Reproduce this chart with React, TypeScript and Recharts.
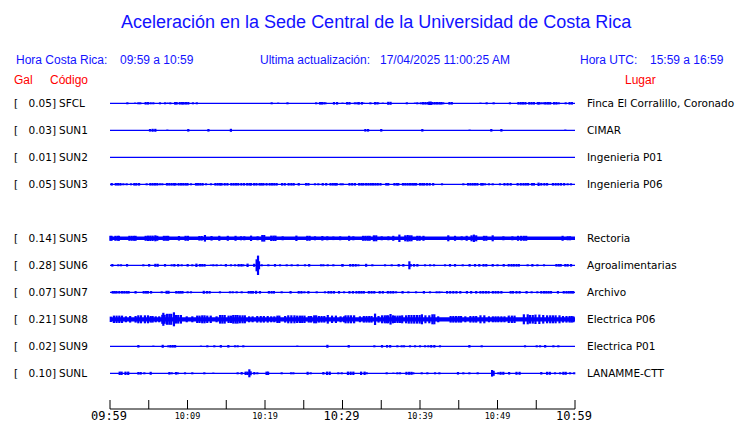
import { ComposedChart, XAxis, YAxis, Scatter, ErrorBar, ReferenceLine, ReferenceArea } from 'recharts';

// ---- data ----
const CODES = ['SFCL', 'SUN1', 'SUN2', 'SUN3', 'SUN5', 'SUN6', 'SUN7', 'SUN8', 'SUN9', 'SUNL'];
const GAL = ['0.05', '0.03', '0.01', '0.05', '0.14', '0.28', '0.07', '0.21', '0.02', '0.10'];
const PLACES = [
  'Finca El Corralillo, Coronado', 'CIMAR', 'Ingenieria P01', 'Ingenieria P06', 'Rectoria',
  'Agroalimentarias', 'Archivo', 'Electrica P06', 'Electrica P01', 'LANAMME-CTT',
];
// background noise half-width of each trace
const NOISE = [0, 0, 0, 0, 1.8, 0.4, 0.4, 2.1, 0, 0];

// bursts: [minutes after 09:59, half amplitude]
const SFCL_EV = [
  [2.24, 1], [3.23, 0.7], [3.66, 1], [3.91, 1], [4.6, 1.3], [4.9, 1.3], [5.25, 1], [5.59, 1], [6.45, 1], [7.1, 1],
  [7.44, 0.7], [7.78, 1], [8.4, 1.3], [8.6, 1.3], [9.0, 1.3], [9.3, 1.3], [9.5, 1.3], [9.8, 1.3], [10.1, 1.3], [10.7, 1],
  [11.2, 1], [20.86, 1], [21.7, 0.7], [22.9, 1], [26.6, 1], [27.1, 1.3], [27.35, 1.3], [27.6, 1], [27.8, 1], [28.9, 1.3],
  [29.3, 1.3], [30.0, 0.7], [30.6, 1.3], [30.9, 1.3], [31.6, 1], [31.9, 1], [32.1, 1.3], [32.5, 1.3], [32.7, 0.7], [33.6, 1],
  [34.2, 1.3], [34.45, 1], [34.6, 1], [35.2, 0.7], [35.9, 1.5], [36.2, 1.5], [38.3, 1], [39.35, 0.7], [39.65, 1], [40.1, 1],
  [40.4, 1.3], [40.7, 1.3], [41.0, 1.3], [41.2, 1.7], [41.4, 1.7], [41.6, 1.3], [41.9, 1.3], [42.2, 1.3], [42.5, 1.3],
  [42.75, 1.3], [43.0, 1], [43.8, 1.3], [44.1, 1.3], [47.8, 0.7], [48.6, 1], [49.5, 1], [51.6, 1], [52.7, 1.3], [53.0, 1.3],
  [53.3, 1.3], [53.6, 1.3], [54.1, 1.3], [54.4, 1.3], [54.7, 1.3], [55.2, 1.3], [55.4, 1.3], [55.7, 1], [56.0, 1],
  [56.2, 1.3], [56.5, 1.3], [56.8, 1.3], [57.3, 1.3], [57.6, 1.3], [57.9, 1], [58.8, 1], [59.3, 1.3], [59.6, 1.3],
];
const SUN1_EV = [
  [5.16, 1.3], [5.5, 1.5], [5.85, 1.5], [7.4, 0.7], [10.1, 1.3], [12.7, 1.3], [15.6, 1.5], [32.95, 1.3], [33.3, 1.3],
  [35.0, 1.3], [40.3, 1.3], [46.4, 0.7], [49.2, 1.3], [50.5, 1.3], [58.75, 0.7],
];
const SUN2_EV: number[][] = [];
const SUN3_EV = [
  [0.22, 1.3], [0.75, 1.3], [1.05, 1.3], [1.35, 1.3], [1.72, 1], [2.15, 1], [2.71, 1], [3.14, 1.3], [3.4, 1.3], [3.75, 1.3],
  [4.73, 1], [5.2, 1.3], [5.5, 1.3], [5.8, 1.3], [6.1, 1.3], [6.45, 1], [6.75, 1], [7.35, 1.3], [7.65, 1.3], [7.95, 1.3],
  [8.25, 1.3], [8.45, 1.3], [8.85, 1.3], [9.15, 1.3], [9.45, 1.3], [9.75, 1.3], [10.0, 1.3], [10.45, 1], [11.1, 1.3],
  [11.35, 1.3], [11.65, 1.3], [11.95, 1.3], [12.39, 1], [13.03, 1], [13.6, 1.3], [13.9, 1.3], [14.2, 1.3], [14.4, 1.3],
  [14.8, 1.3], [15.15, 1.3], [15.65, 1.3], [15.95, 1.3], [16.25, 1.3], [16.55, 1.3], [16.95, 1.3], [17.3, 1.3], [17.7, 1.3],
  [18.0, 1.3], [18.2, 1.3], [18.6, 1.3], [18.9, 1.3], [19.3, 1.3], [19.55, 1.3], [19.8, 1.3], [20.2, 1.3], [20.6, 1.3],
  [20.9, 1.3], [21.2, 1.3], [21.5, 1.3], [22.2, 1.3], [22.55, 1.3], [23.05, 1.3], [23.4, 1.3], [23.7, 1.3], [24.35, 1.3],
  [25.3, 1.3], [25.6, 1.3], [26.45, 1], [26.88, 1], [27.45, 1.3], [27.9, 1.3], [28.45, 1.3], [28.75, 1.3], [29.05, 1.3],
  [29.25, 1.3], [29.76, 1], [30.02, 1], [30.9, 1.3], [31.25, 1.3], [31.6, 1.3], [32.15, 1.3], [32.45, 1.3], [32.7, 1.3],
  [33.05, 1.3], [33.35, 1.3], [33.65, 1.3], [33.95, 1.3], [34.25, 1.3], [34.55, 1.3], [34.9, 1.3], [35.65, 1.3], [35.9, 1.3],
  [36.7, 1.3], [37.0, 1.3], [37.2, 1.3], [37.8, 1.3], [38.1, 1.3], [38.4, 1.3], [38.7, 1.3], [39.0, 1.3], [39.25, 1.3],
  [39.5, 1.3], [40.0, 1.3], [40.3, 1.3], [40.55, 1.3], [40.9, 1.3], [41.25, 1.3], [41.7, 1.3], [42.84, 1], [45.59, 1],
  [46.2, 1.3], [46.5, 1.3], [46.8, 1.3], [47.1, 1.3], [47.4, 1.3], [47.9, 1.3], [48.1, 1.3], [48.39, 1], [48.9, 1],
  [49.38, 1], [50.32, 1], [50.9, 1.3], [51.3, 1.3], [51.7, 1.3], [52.6, 1.3], [53.0, 1.3], [53.35, 1.3], [53.65, 1.3],
  [53.95, 1.3], [54.45, 1.3], [54.7, 1.3], [55.3, 1.7], [55.65, 1.3], [56.05, 1.3], [56.4, 1.3], [57.15, 1.3], [57.5, 1.3],
  [57.85, 1.3], [58.2, 1.3], [58.6, 1.3], [59.05, 1], [59.48, 1],
];
const SUN5_EV = [
  [0.05, 2.5], [0.2, 2.5], [0.7, 2.5], [1.0, 2.5], [1.15, 2.5], [2.5, 2.5], [2.8, 2.5], [3.1, 2.5], [3.3, 2.5], [4.6, 2.5],
  [4.9, 2.7], [5.2, 2.7], [5.5, 2.7], [5.85, 3], [6.1, 2.5], [6.95, 2.5], [7.25, 2.5], [7.5, 2.5], [8.9, 2.3], [9.75, 2.5],
  [10.05, 2.5], [11.53, 2.3], [11.83, 2.3], [12.25, 3.3], [13.1, 2.3], [14.1, 2.5], [15.2, 2.5], [16.2, 2.5], [16.9, 2],
  [17.33, 2], [18.2, 2.7], [19.05, 2], [19.65, 3.3], [19.9, 3.3], [20.8, 2.7], [21.1, 2.7], [21.35, 2.7], [22.28, 2],
  [24.05, 2.7], [25.45, 2.5], [25.75, 2.5], [26.45, 2], [27.4, 2.3], [28.04, 2], [28.82, 1.8], [29.7, 2], [30.85, 2.5],
  [31.4, 2], [32.65, 2.5], [32.95, 2.5], [33.25, 2.5], [33.5, 2.5], [34.05, 3], [34.35, 3], [35.06, 2], [35.92, 2],
  [36.55, 2.5], [37.34, 3.7], [38.1, 3], [38.4, 3.3], [38.65, 3], [38.9, 3], [39.65, 2.5], [39.95, 2.5], [40.45, 2.5],
  [43.65, 3], [44.52, 2.5], [45.38, 2], [46.02, 2.5], [46.65, 3], [46.95, 3.7], [47.25, 3], [48.25, 2.5], [48.55, 2.5],
  [49.38, 3], [50.76, 2], [51.92, 2], [52.65, 2.5], [53.05, 2.5], [53.4, 2.5], [53.7, 2.5], [58.4, 2.5], [59.06, 2],
  [59.36, 2],
];
const SUN6_EV = [
  [0.3, 1.3], [1.07, 1], [1.42, 1], [2.2, 1.3], [4.3, 1], [5.05, 1.3], [5.85, 1.5], [6.15, 1.5], [7.1, 1.3], [7.96, 1],
  [8.3, 1.3], [8.8, 1.3], [9.25, 1], [10.02, 1.3], [10.62, 1], [11.15, 1.7], [11.6, 1.3], [11.9, 1.3], [12.2, 1.3],
  [13.03, 0.7], [13.33, 1], [13.76, 1], [14.32, 0.7], [14.95, 1.3], [15.61, 1], [16.13, 1], [16.6, 1.3], [16.95, 1.3],
  [17.2, 1], [17.75, 1.7], [18.6, 1.5], [18.92, 6], [19.1, 9.7], [19.23, 4], [19.57, 1], [20.43, 1], [21.29, 1.3],
  [21.94, 1], [22.8, 1], [23.44, 1], [24.22, 1], [25.16, 1], [25.7, 1.3], [27.23, 1], [27.53, 1], [28.09, 1], [28.82, 1],
  [29.98, 1], [30.0, 1.3], [31.0, 1.3], [31.35, 1.3], [31.7, 1.3], [32.05, 1], [33.05, 1.5], [33.85, 1], [35.49, 1],
  [36.35, 1], [37.25, 1.3], [37.85, 1.3], [38.63, 4], [38.8, 1.3], [39.23, 1.3], [39.66, 1.3], [40.65, 1], [41.3, 1],
  [41.81, 1], [43.23, 1], [43.87, 1.3], [44.52, 1.3], [45.51, 1], [46.4, 1.3], [47.1, 1.3], [47.65, 1.3], [48.2, 1.3],
  [48.55, 1.3], [49.38, 1.3], [50.0, 1], [50.8, 1.3], [51.45, 1.3], [51.8, 1.3], [52.1, 1.3], [52.45, 1.3], [52.75, 1.3],
  [53.89, 1], [54.5, 1.3], [55.15, 1], [56.0, 1], [57.6, 1.3], [57.9, 1.3], [58.15, 1.3], [58.75, 1.3], [59.05, 1.3],
  [59.49, 1.3],
];
const SUN7_EV = [
  [0.35, 1.3], [0.6, 1.3], [0.85, 1.3], [1.2, 1.3], [1.55, 1.3], [1.85, 1.3], [2.15, 1.3], [2.4, 1.3], [3.3, 1.3],
  [4.35, 1.3], [4.65, 1.3], [4.9, 1.3], [5.3, 1.3], [6.67, 1], [7.3, 1.5], [7.55, 1.5], [8.55, 1.3], [8.85, 1.3], [9.1, 1.3],
  [9.35, 1.3], [10.02, 1], [10.45, 1], [12.1, 1.5], [12.5, 1.3], [12.85, 1.3], [14.19, 1], [15.48, 1], [15.83, 1],
  [16.34, 1], [16.99, 1], [17.9, 1.3], [18.2, 1.3], [18.45, 1.3], [18.85, 1.5], [19.35, 1.3], [20.5, 1.3], [20.85, 1.3],
  [21.15, 1.3], [22.15, 1], [23.3, 1.3], [24.35, 1.3], [24.7, 1.3], [25.08, 1], [25.6, 1.3], [26.67, 1], [27.74, 1],
  [28.2, 1.3], [28.55, 1.3], [28.9, 1.3], [29.55, 1.3], [30.2, 1], [30.9, 1.3], [31.35, 1.3], [31.8, 1.3], [32.15, 1.3],
  [32.45, 1.3], [32.75, 1.3], [33.4, 1.3], [33.75, 1.3], [34.1, 1.3], [34.8, 1.3], [35.2, 1.3], [35.85, 1.3], [36.2, 1.3],
  [36.55, 1.3], [36.91, 1], [37.75, 1.3], [38.5, 1], [39.49, 1], [40.5, 1.3], [41.29, 1], [42.15, 1], [42.5, 1], [42.8, 0.7],
  [43.5, 1.3], [43.9, 1.3], [44.3, 1.3], [44.7, 1.3], [45.2, 1.3], [46.05, 1.3], [46.6, 1.3], [47.25, 1.3], [47.8, 1.3],
  [48.15, 1.3], [48.5, 1.3], [48.85, 1.3], [49.4, 1.3], [49.75, 1.3], [50.1, 1.3], [50.5, 1.3], [51.7, 1.3], [52.0, 1.3],
  [52.45, 1.3], [52.85, 1.3], [53.75, 1.3], [54.4, 1], [55.14, 1], [55.65, 1.3], [56.0, 1.3], [56.3, 1.3], [56.6, 1.3],
  [56.9, 1.3], [57.8, 1.3], [58.55, 1.3], [58.9, 1.3], [59.2, 1.3], [59.5, 1.3], [59.75, 1.3],
];
const SUN8_EV = [
  [0.1, 2.7], [0.5, 3.7], [0.85, 3.7], [1.2, 3.7], [1.55, 3.7], [2.05, 3], [2.6, 3.3], [3.3, 3.3], [3.65, 4], [4.0, 4],
  [4.5, 4], [4.9, 4], [5.25, 3.3], [5.5, 3.3], [5.9, 3], [6.35, 3], [6.75, 4.5], [6.88, 6.5], [7.05, 4.5], [7.35, 5.5],
  [7.65, 5.5], [7.9, 5.5], [8.25, 7], [8.5, 4.3], [8.8, 4.3], [9.15, 4.3], [9.9, 3], [10.62, 3], [11.25, 3.7], [11.55, 3.7],
  [11.9, 4], [12.2, 4], [12.55, 3.7], [13.0, 3.7], [13.75, 3], [14.2, 4.3], [14.5, 4.3], [14.8, 4.3], [15.3, 3.7],
  [15.6, 3.7], [15.9, 4.3], [16.2, 4.3], [16.45, 4.3], [16.75, 4], [17.1, 4], [17.4, 4], [17.95, 3], [18.4, 3], [19.0, 3.3],
  [19.45, 3.3], [19.85, 3.3], [20.35, 3.3], [20.8, 3], [21.2, 3], [21.6, 3.7], [21.85, 3.7], [22.6, 3.3], [23.0, 4],
  [23.4, 4], [23.8, 4], [24.15, 3.7], [24.5, 3.7], [24.8, 3.7], [25.1, 3.7], [25.65, 3.3], [25.95, 3.3], [26.35, 4],
  [26.6, 4], [26.95, 3.3], [27.3, 3.3], [27.65, 3.3], [28.1, 4.3], [28.65, 3.7], [29.15, 3.7], [29.75, 3], [30.2, 3],
  [30.4, 4], [30.75, 4], [31.1, 4], [31.5, 4], [32.25, 3], [32.75, 3.3], [33.1, 3.3], [33.45, 3.3], [33.75, 3.3],
  [34.2, 5.7], [34.65, 3.3], [35.1, 4], [35.45, 4], [35.7, 4], [35.9, 4], [36.2, 5.3], [36.5, 4], [36.75, 3.7], [37.1, 3.7],
  [37.4, 3.7], [37.7, 4], [38.2, 4], [38.55, 4.3], [38.9, 4.3], [39.25, 4.3], [39.6, 4.3], [39.95, 4.3], [40.25, 5],
  [40.7, 4], [41.2, 4], [41.6, 5], [41.85, 5], [42.35, 3], [43.95, 3.3], [44.3, 3.3], [44.65, 3.3], [45.0, 3.3],
  [45.3, 3.3], [45.85, 3], [46.5, 3.3], [46.9, 3.3], [47.25, 3.3], [47.8, 4], [48.3, 4], [48.9, 3], [49.4, 3], [49.75, 3],
  [50.1, 3], [50.5, 3], [50.9, 3], [51.45, 3.7], [51.85, 3.7], [52.2, 3.7], [53.4, 5], [53.9, 5], [54.2, 4.3], [54.55, 4.3],
  [54.9, 4.7], [55.4, 4.7], [55.9, 4.3], [56.4, 4], [56.8, 4], [57.15, 4], [57.5, 4], [58.0, 4], [58.45, 3.3], [58.9, 3.3],
  [59.3, 3.3], [59.57, 3.3], [59.79, 3],
];
const SUN9_EV = [
  [3.66, 1.3], [5.59, 0.7], [6.8, 1.5], [7.53, 1], [7.8, 1.3], [8.1, 1.3], [8.4, 1.3], [11.74, 0.7], [12.56, 1], [13.46, 1],
  [14.3, 1.3], [15.27, 1.3], [16.13, 1], [16.47, 1], [17.2, 1], [24.17, 0.7], [28.05, 1.5], [30.8, 1.3], [34.11, 1],
  [35.1, 1.3], [35.75, 1.3], [36.15, 1.3], [37.08, 1], [37.64, 1], [37.94, 1], [38.71, 1], [39.36, 1], [40.0, 1],
  [40.65, 1], [41.08, 1], [41.45, 1.3], [41.85, 1.3], [42.58, 1], [46.37, 1.3], [47.96, 1], [53.55, 1], [55.06, 1],
  [55.49, 1], [56.15, 1.3], [57.21, 1], [57.85, 1],
];
const SUNL_EV = [
  [1.25, 1.7], [1.5, 1.7], [2.0, 1.7], [2.35, 1.7], [3.66, 1.3], [3.96, 1.3], [4.43, 1], [5.25, 1.5], [7.66, 1.3], [7.96, 1],
  [8.52, 1.3], [8.73, 1], [9.68, 1], [10.62, 1], [12.17, 1], [13.33, 0.7], [16.47, 1], [16.99, 1.3], [17.5, 1.7],
  [17.75, 1.7], [17.98, 4], [18.15, 2], [18.62, 1.3], [19.01, 1], [20.2, 1.7], [20.4, 1.7], [22.15, 1], [23.36, 1],
  [23.66, 1], [25.5, 1.5], [25.89, 1], [27.53, 1.3], [28.0, 1.7], [28.35, 1.7], [29.46, 1], [29.9, 1], [30.7, 1.7],
  [31.05, 1.7], [31.4, 1.7], [32.4, 1.7], [32.85, 1.7], [33.12, 1], [35.7, 1], [36.56, 0.7], [37.08, 1], [37.42, 1],
  [38.25, 1.5], [38.6, 1.5], [38.9, 1.5], [39.14, 1], [40.22, 1], [40.95, 1], [41.94, 1], [42.5, 1], [44.9, 1.3],
  [45.59, 1], [46.37, 1], [47.44, 1], [49.3, 3.3], [49.5, 2.5], [50.11, 1], [50.4, 1.5], [50.75, 1.5], [51.5, 1.3],
  [52.45, 1.5], [52.85, 1.5], [55.65, 1.3], [56.4, 1.5], [56.75, 1.5], [57.42, 1], [58.07, 1], [58.5, 1.5], [58.8, 1.5],
  [59.36, 1], [59.9, 1],
];
const EVENTS = [SFCL_EV, SUN1_EV, SUN2_EV, SUN3_EV, SUN5_EV, SUN6_EV, SUN7_EV, SUN8_EV, SUN9_EV, SUNL_EV];

const TICK_MIN = [0, 5, 10, 15, 20, 25, 30, 35, 40, 45, 50, 55, 60];
const TICK_LABELS = ['09:59', '', '10:09', '', '10:19', '', '10:29', '', '10:39', '', '10:49', '', '10:59'];
const MAJOR = ['09:59', '10:29', '10:59'];

// ---- layout ----
const W = 740;
const H = 423;
const PLOT_LEFT = 110;
const PLOT_RIGHT = 575;
const AXIS_H = 14;
const PLOT_BOTTOM = H - AXIS_H;
const FIRST_ROW = 103.3;
const ROW_GAP = 27;
const SLOT = [0, 1, 2, 3, 5, 6, 7, 8, 9, 10]; // SUN4 is missing, leave its row empty
const baseOf = (i: number) => FIRST_ROW + ROW_GAP * SLOT[i];

const BLUE = '#0000ff';
const TEXT_BLUE = '#1212ff';
const RED = '#ff0000';
const sans = '"Liberation Sans", Arial, sans-serif';
const dejavu = '"DejaVu Sans", sans-serif';

function TimeTick({ x, y, payload }: any) {
  const idx = TICK_MIN.indexOf(payload.value);
  const label = TICK_LABELS[idx] ?? '';
  const major = MAJOR.includes(label);
  return (
    <g>
      <line x1={x} x2={x} y1={y - 9} y2={y} stroke="#000" strokeWidth={1} />
      {label && (
        <text
          x={x - (major ? 1 : 0)}
          y={y + (major ? 11 : 10)}
          textAnchor="middle"
          fontFamily='"DejaVu Sans Mono", monospace'
          fontSize={major ? 12 : 8.5}
          fill="#000"
        >
          {label}
        </text>
      )}
    </g>
  );
}

const NoDot = () => <g />;

function Txt({ x, y, color, size, font, children, right }: any) {
  return (
    <div
      style={{
        position: 'absolute',
        left: right ? undefined : x,
        right: right ? W - x : undefined,
        top: y,
        transform: 'translateY(-50%)',
        color,
        fontSize: size,
        fontFamily: font,
        lineHeight: 1,
        whiteSpace: 'pre',
      }}
    >
      {children}
    </div>
  );
}

export default function App() {
  return (
    <div style={{ position: 'fixed', left: 0, top: 0, width: W, height: H, background: '#fff', overflow: 'hidden' }}>
      <style>{`body{margin:0}`}</style>

      {/* encabezado */}
      <Txt x={121} y={22} color={TEXT_BLUE} size={18} font={sans}>
        Aceleración en la Sede Central de la Universidad de Costa Rica
      </Txt>
      <Txt x={16} y={60} color={TEXT_BLUE} size={12} font={sans}>Hora Costa Rica:</Txt>
      <Txt x={120} y={60} color={TEXT_BLUE} size={12} font={sans}>09:59 a 10:59</Txt>
      <Txt x={260} y={60} color={TEXT_BLUE} size={12} font={sans}>Ultima actualización:</Txt>
      <Txt x={380} y={60} color={TEXT_BLUE} size={12} font={sans}>17/04/2025 11:00:25 AM</Txt>
      <Txt x={580} y={60} color={TEXT_BLUE} size={12} font={sans}>Hora UTC:</Txt>
      <Txt x={650} y={60} color={TEXT_BLUE} size={12} font={sans}>15:59 a 16:59</Txt>
      <Txt x={14} y={80} color={RED} size={12} font={sans}>Gal</Txt>
      <Txt x={50} y={80} color={RED} size={12} font={sans}>Código</Txt>
      <Txt x={625} y={80} color={RED} size={12} font={sans}>Lugar</Txt>

      {/* etiquetas de estaciones */}
      {CODES.map((code, i) => (
        <div key={code}>
          <Txt x={14} y={baseOf(i)} color="#000" size={10.5} font={dejavu}>[</Txt>
          <Txt x={56} y={baseOf(i)} color="#000" size={10.5} font={dejavu} right>{GAL[i]}]</Txt>
          <Txt x={59} y={baseOf(i)} color="#000" size={10.5} font={dejavu}>{code}</Txt>
          <Txt x={587} y={baseOf(i)} color="#000" size={10.5} font={dejavu}>{PLACES[i]}</Txt>
        </div>
      ))}

      <div style={{ position: 'absolute', left: 0, top: 0 }}>
        <ComposedChart
          width={W}
          height={H}
          margin={{ top: 0, right: W - PLOT_RIGHT, bottom: 0, left: PLOT_LEFT }}
        >
          <XAxis
            type="number"
            dataKey="t"
            domain={[0, 60]}
            ticks={TICK_MIN}
            interval={0}
            allowDataOverflow
            height={AXIS_H}
            tickSize={0}
            tickMargin={0}
            tickLine={false}
            axisLine={{ stroke: '#000', strokeWidth: 1 }}
            tick={<TimeTick />}
          />
          <YAxis type="number" dataKey="y" hide reversed domain={[0, PLOT_BOTTOM]} allowDataOverflow />
          {CODES.map((code, i) =>
            NOISE[i] > 0 ? (
              <ReferenceArea
                key={`n-${code}`}
                y1={baseOf(i) - NOISE[i]}
                y2={baseOf(i) + NOISE[i]}
                fill={BLUE}
                fillOpacity={1}
                stroke="none"
              />
            ) : null
          )}
          {CODES.map((code, i) => (
            <ReferenceLine key={`b-${code}`} y={baseOf(i)} stroke={BLUE} strokeWidth={1.2} />
          ))}
          {CODES.map((code, i) => (
            <Scatter
              key={`s-${code}`}
              name={code}
              data={EVENTS[i].map(([t, a]) => ({ t, y: baseOf(i), a }))}
              dataKey="y"
              shape={NoDot}
              isAnimationActive={false}
            >
              <ErrorBar dataKey="a" direction="y" width={0} stroke={BLUE} strokeWidth={2.2} isAnimationActive={false} />
            </Scatter>
          ))}
        </ComposedChart>
      </div>
    </div>
  );
}
